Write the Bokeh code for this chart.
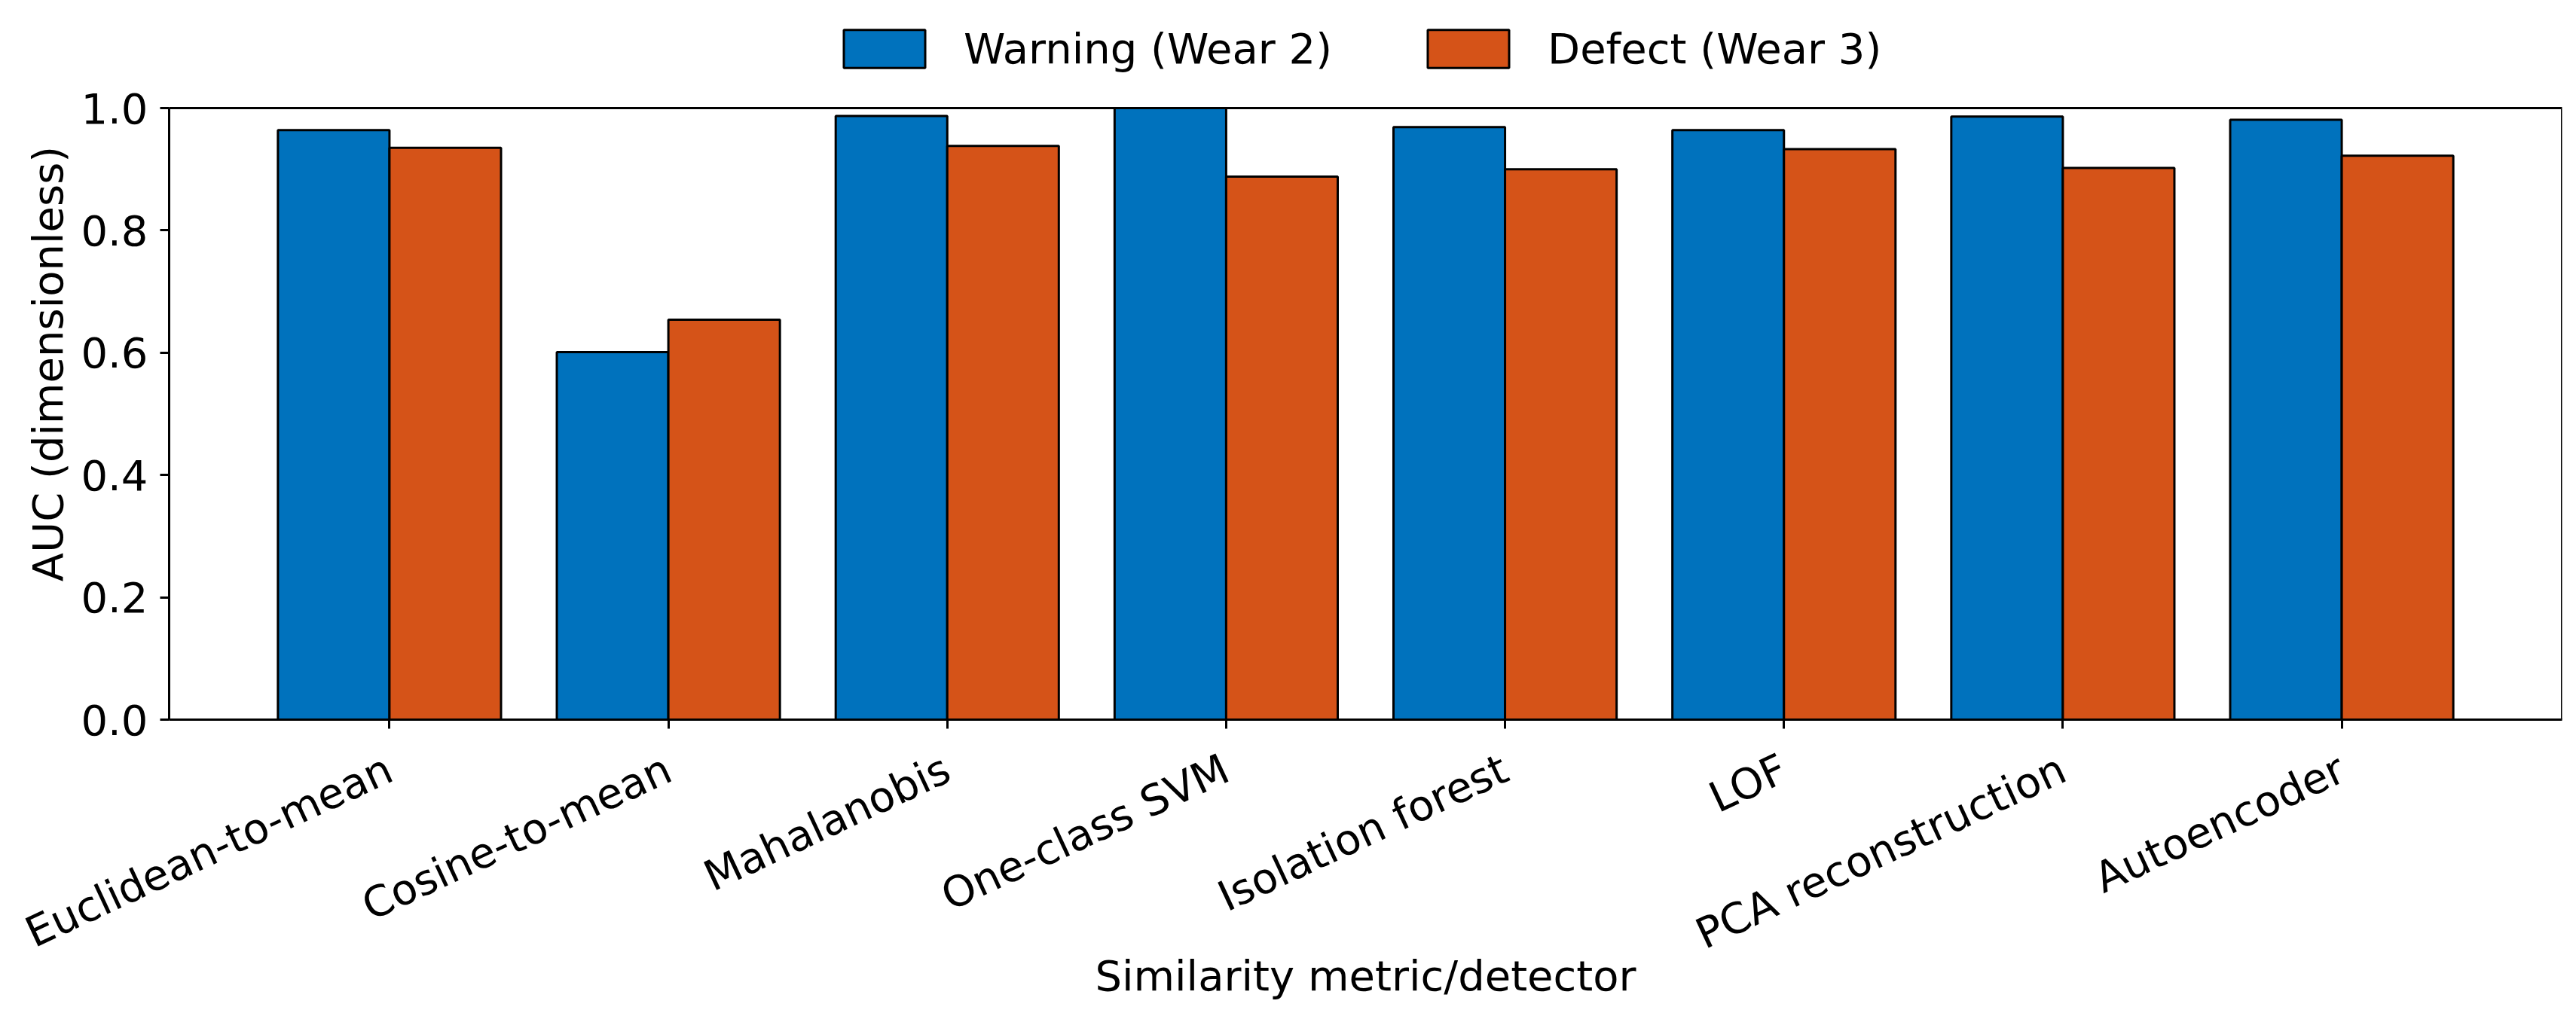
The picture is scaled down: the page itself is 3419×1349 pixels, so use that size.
import math
from bokeh.plotting import figure
from bokeh.models import (ColumnDataSource, FactorRange, Range1d, FixedTicker, Legend, LegendItem,
                          CustomJSTickFormatter, BoxAnnotation)
from bokeh.transform import dodge
from bokeh.embed import file_html
from bokeh.resources import INLINE

categories = ["Euclidean-to-mean", "Cosine-to-mean", "Mahalanobis", "One-class SVM",
              "Isolation forest", "LOF", "PCA reconstruction", "Autoencoder"]
warning_auc = [0.964, 0.601, 0.987, 1.000, 0.969, 0.964, 0.986, 0.981]
defect_auc = [0.935, 0.654, 0.938, 0.888, 0.900, 0.933, 0.902, 0.922]
series_names = ["Warning (Wear 2)", "Defect (Wear 3)"]
y_ticks = [0.0, 0.2, 0.4, 0.6, 0.8, 1.0]
y_min, y_max = 0.0, 1.0

BLUE = "#0072BD"
ORANGE = "#D55318"
FONT = "DejaVu Sans"
FS = "56px"

# axes box: 812 px for the 0..1 range, plus headroom above it for the legend
AX_H = 812
TOP_PAD = 133
src = ColumnDataSource(dict(cat=categories, warn=warning_auc, defect=defect_auc))

p = figure(frame_width=3176, frame_height=AX_H + TOP_PAD, output_backend="svg", toolbar_location=None,
           x_range=FactorRange(factors=categories, range_padding=0.29, range_padding_units="absolute"),
           y_range=Range1d(y_min, y_max + TOP_PAD / AX_H * (y_max - y_min)),
           min_border_left=224, min_border_right=3, min_border_top=10, min_border_bottom=0)

r1 = p.vbar(x=dodge("cat", -0.2, range=p.x_range), top="warn", width=0.4, source=src,
            fill_color=BLUE, line_color="black", line_width=3)
r2 = p.vbar(x=dodge("cat", 0.2, range=p.x_range), top="defect", width=0.4, source=src,
            fill_color=ORANGE, line_color="black", line_width=3)

p.grid.visible = False
p.outline_line_color = None
p.background_fill_color = "white"
p.border_fill_color = "white"

# the axes box (0..1 in y, full width in x)
p.add_layout(BoxAnnotation(bottom=y_min, top=y_max, fill_alpha=0, line_color="black",
                           line_width=3, line_alpha=1))

for ax in (p.xaxis[0], p.yaxis[0]):
    ax.axis_line_color = "black"
    ax.axis_line_width = 3
    ax.major_tick_line_color = "black"
    ax.major_tick_line_width = 3
    ax.major_tick_in = 0
    ax.major_tick_out = 12
    ax.minor_tick_line_color = None
    ax.major_label_text_font = FONT
    ax.major_label_text_font_size = FS
    ax.major_label_text_color = "black"
    ax.axis_label_text_font = FONT
    ax.axis_label_text_font_size = FS
    ax.axis_label_text_font_style = "normal"
    ax.axis_label_text_color = "black"

p.xaxis.axis_label = "Similarity metric/detector"
p.xaxis.major_label_orientation = math.radians(25)
p.xaxis.major_label_standoff = 50
p.xaxis.axis_label_standoff = -42

p.yaxis.axis_label = "AUC (dimensionless)"
p.yaxis.bounds = (y_min, y_max)
p.yaxis.ticker = FixedTicker(ticks=y_ticks)
p.yaxis.formatter = CustomJSTickFormatter(code="return tick.toFixed(1);")
p.yaxis.major_label_standoff = 16
p.yaxis.axis_label_standoff = 8

legend = Legend(items=[LegendItem(label=series_names[0], renderers=[r1]),
                       LegendItem(label=series_names[1], renderers=[r2])],
                orientation="horizontal", location=(882, 858))
legend.glyph_width = 135
legend.glyph_height = 63
legend.label_standoff = 38
legend.spacing = 113
legend.padding = 0
legend.margin = 0
legend.border_line_color = None
legend.background_fill_alpha = 0
legend.label_text_font = FONT
legend.label_text_font_size = FS
legend.label_text_color = "black"
p.add_layout(legend, "center")

open("out.html", "w").write(file_html(p, INLINE))
